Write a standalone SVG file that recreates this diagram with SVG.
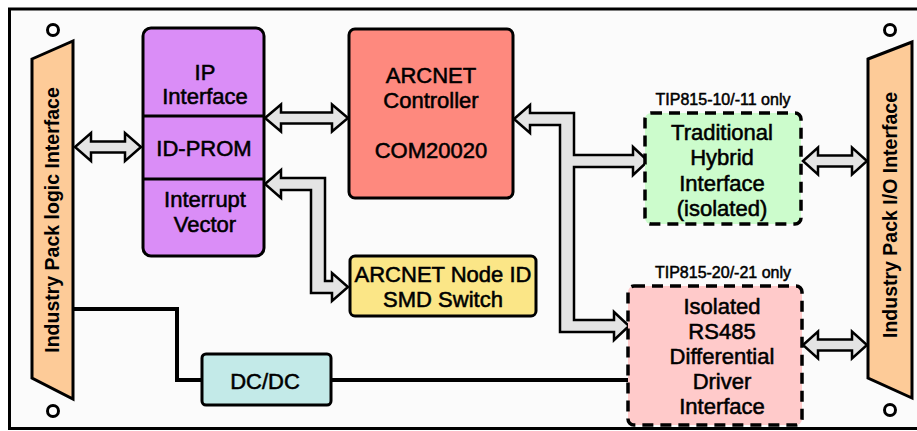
<svg xmlns="http://www.w3.org/2000/svg" width="917" height="431" viewBox="0 0 917 431">
<style>
text{font-family:"Liberation Sans",Arial,sans-serif;fill:#000;text-anchor:middle}
.t{font-size:22px;stroke:#000;stroke-width:0.55}
.s{font-size:16px;stroke:#000;stroke-width:0.5}
.v{font-size:19.5px;font-weight:bold}
.box{stroke:#000;stroke-width:3}
.dash{stroke:#000;stroke-width:3.5;stroke-dasharray:11 7}
.arr{fill:#e4e4e4;stroke:#000;stroke-width:2.5;stroke-linejoin:miter}
.wire{fill:none;stroke:#000;stroke-width:4}
.hole{fill:#fff;stroke:#000;stroke-width:3}
</style>
<rect width="917" height="431" fill="#fff"/>
<rect x="9.5" y="9" width="930" height="419.5" fill="#fbfbfb" stroke="#000" stroke-width="3"/>

<g id="connectors">
<path class="wire" d="M73,309 H177 V380 H202"/>
<path class="wire" d="M331,380 H628"/>
<path class="arr" d="M75,147 L91,133 L91,141.5 L125,141.5 L125,133 L141,147 L125,161 L125,152.5 L91,152.5 L91,161 Z"/>
<path class="arr" d="M265,118 L281,104.5 L281,112.5 L332,112.5 L332,104.5 L348,118 L332,131.5 L332,123.5 L281,123.5 L281,131.5 Z"/>
<path class="arr" d="M265,184 L281,170 L281,178 L325,178 L325,281 L332,281 L332,273 L348,287 L332,301 L332,293 L311,293 L311,190 L281,190 L281,198 Z"/>
<path class="arr" d="M514,119 L530,105 L530,113 L574,113 L574,155 L633,155 L633,147 L648,161 L633,175 L633,167 L574,167 L574,320 L614,320 L614,312 L629,326 L614,340 L614,332 L560,332 L560,125 L530,125 L530,133 Z"/>
<path class="arr" d="M803,161 L818,147.5 L818,155.5 L852,155.5 L852,147.5 L867,161 L852,174.5 L852,166.5 L818,166.5 L818,174.5 Z"/>
<path class="arr" d="M803,345 L818,331.5 L818,339.5 L852,339.5 L852,331.5 L867,345 L852,358.5 L852,350.5 L818,350.5 L818,358.5 Z"/>
</g>

<g id="ip-logic-interface">
<circle class="hole" cx="53" cy="30" r="5.5"/>
<circle class="hole" cx="53" cy="411" r="5.5"/>
<path class="box" fill="#fdcb98" d="M32,59 L73,41 L73,399 L32,378 Z"/>
<text class="v" transform="translate(59,220) rotate(-90)">Industry Pack logic Interface</text>
</g>

<g id="ip-io-interface">
<circle class="hole" cx="890" cy="30" r="5.5"/>
<circle class="hole" cx="890" cy="410" r="5.5"/>
<path class="box" fill="#fdcb98" d="M868,59 L912,42 L912,398 L868,378 Z"/>
<text class="v" transform="translate(897,215) rotate(-90)">Industry Pack I/O Interface</text>
</g>

<g id="ip-block">
<rect class="box" x="143" y="28" width="121" height="228" rx="8" fill="#da8df7"/>
<line x1="143" y1="116" x2="264" y2="116" stroke="#000" stroke-width="3"/>
<line x1="143" y1="179" x2="264" y2="179" stroke="#000" stroke-width="3"/>
<text class="t" x="205" y="80">IP</text>
<text class="t" x="205" y="104">Interface</text>
<text class="t" x="204" y="156">ID-PROM</text>
<text class="t" x="205" y="207">Interrupt</text>
<text class="t" x="205" y="232">Vector</text>
</g>

<g id="arcnet-controller">
<rect class="box" x="349" y="29" width="164" height="169" rx="6" fill="#fe897e"/>
<text class="t" x="431" y="83">ARCNET</text>
<text class="t" x="431" y="108">Controller</text>
<text class="t" x="431" y="158">COM20020</text>
</g>

<g id="node-id-switch">
<rect class="box" x="350" y="256" width="186" height="60" rx="5" fill="#fbe687"/>
<text class="t" x="443" y="282">ARCNET Node ID</text>
<text class="t" x="443" y="307">SMD Switch</text>
</g>

<g id="hybrid-interface">
<text class="s" x="723" y="105">TIP815-10/-11 only</text>
<rect class="dash" x="645" y="113" width="156" height="111" rx="6" fill="#ccfccc"/>
<text class="t" x="722" y="140">Traditional</text>
<text class="t" x="722" y="165">Hybrid</text>
<text class="t" x="722" y="191">Interface</text>
<text class="t" x="722" y="216">(isolated)</text>
</g>

<g id="rs485-interface">
<text class="s" x="723" y="278">TIP815-20/-21 only</text>
<rect class="dash" x="628" y="286" width="174" height="139" rx="6" fill="#ffcaca"/>
<text class="t" x="722" y="314">Isolated</text>
<text class="t" x="722" y="339">RS485</text>
<text class="t" x="722" y="364">Differential</text>
<text class="t" x="722" y="389">Driver</text>
<text class="t" x="722" y="414">Interface</text>
</g>

<g id="dcdc">
<rect class="box" x="202" y="354" width="129" height="51" rx="4" fill="#c3eae8"/>
<text class="t" x="265" y="389">DC/DC</text>
</g>
</svg>
